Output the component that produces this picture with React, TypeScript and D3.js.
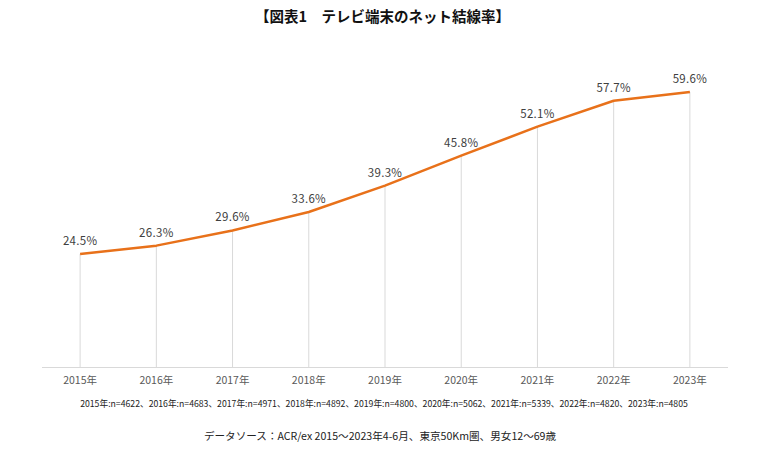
import { useEffect, useRef } from 'react';
import * as d3 from 'd3';

const years = ['2015年', '2016年', '2017年', '2018年', '2019年', '2020年', '2021年', '2022年', '2023年'];
const rates = [24.5, 26.3, 29.6, 33.6, 39.3, 45.8, 52.1, 57.7, 59.6];
const sampleNote =
  '2015年:n=4622、2016年:n=4683、2017年:n=4971、2018年:n=4892、2019年:n=4800、2020年:n=5062、2021年:n=5339、2022年:n=4820、2023年:n=4805';
const title = '【図表1　テレビ端末のネット結線率】';
const source = 'データソース：ACR/ex 2015～2023年4-6月、東京50Km圏、男女12～69歳';

const W = 765;
const H = 450;

export default function App() {
  const svgRef = useRef<SVGSVGElement>(null);

  useEffect(() => {
    if (!svgRef.current) return;
    const svg = d3.select(svgRef.current);
    svg.selectAll('*').remove();

    const font = "'Noto Sans CJK JP', 'Noto Sans', sans-serif";
    const left = 42;
    const right = 728;
    const baseY = 367;

    const x = d3.scaleBand<string>().domain(years).range([left, right]);
    const cx = (d: string) => (x(d) ?? 0) + x.bandwidth() / 2;
    const y = d3.scaleLinear().domain([0, 70]).range([baseY, 44]);

    // title
    svg.append('text')
      .attr('x', W / 2)
      .attr('y', 22)
      .attr('text-anchor', 'middle')
      .attr('font-family', font)
      .attr('font-size', 14.5)
      .attr('font-weight', 700)
      .attr('fill', '#111')
      .text(title);

    // vertical drop lines
    svg.append('g')
      .selectAll('line')
      .data(rates)
      .join('line')
      .attr('x1', (_, i) => cx(years[i]))
      .attr('x2', (_, i) => cx(years[i]))
      .attr('y1', d => y(d))
      .attr('y2', baseY)
      .attr('stroke', '#d9d9d9')
      .attr('stroke-width', 1);

    // baseline
    svg.append('line')
      .attr('x1', left)
      .attr('x2', right)
      .attr('y1', baseY + 0.5)
      .attr('y2', baseY + 0.5)
      .attr('stroke', '#d9d9d9')
      .attr('stroke-width', 1);

    // line
    const line = d3.line<number>()
      .x((_, i) => cx(years[i]))
      .y(d => y(d));

    svg.append('path')
      .datum(rates)
      .attr('fill', 'none')
      .attr('stroke', '#E8711A')
      .attr('stroke-width', 2.5)
      .attr('stroke-linejoin', 'round')
      .attr('d', line);

    // value labels
    svg.append('g')
      .selectAll('text')
      .data(rates)
      .join('text')
      .attr('x', (_, i) => cx(years[i]))
      .attr('y', d => y(d) - 9)
      .attr('text-anchor', 'middle')
      .attr('font-family', font)
      .attr('font-size', 11.5)
      .attr('letter-spacing', 0.3)
      .attr('fill', '#404040')
      .text(d => `${d.toFixed(1)}%`);

    // x labels
    svg.append('g')
      .selectAll('text')
      .data(years)
      .join('text')
      .attr('x', d => cx(d))
      .attr('y', baseY + 17)
      .attr('text-anchor', 'middle')
      .attr('font-family', font)
      .attr('font-size', 10.5)
      .attr('fill', '#595959')
      .text(d => d);

    // sample note
    svg.append('text')
      .attr('x', 384)
      .attr('y', 407)
      .attr('text-anchor', 'middle')
      .attr('font-family', font)
      .attr('font-size', 8.7)
      .attr('fill', '#222')
      .text(sampleNote);

    // source
    svg.append('text')
      .attr('x', 380)
      .attr('y', 440)
      .attr('text-anchor', 'middle')
      .attr('font-family', font)
      .attr('font-size', 10.6)
      .attr('fill', '#222')
      .text(source);
  }, []);

  return (
    <svg
      ref={svgRef}
      width={W}
      height={H}
      style={{ position: 'absolute', left: 0, top: 0, background: '#fff' }}
    />
  );
}
